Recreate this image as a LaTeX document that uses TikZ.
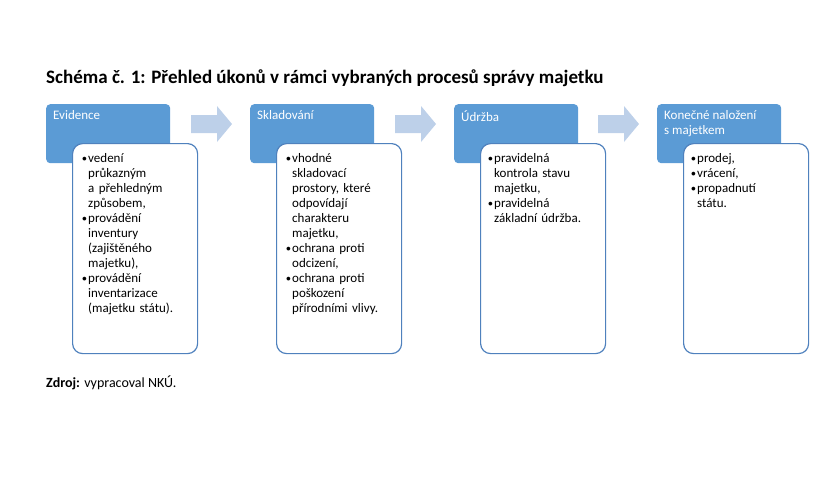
\documentclass[tikz,border=0pt]{standalone}
\usepackage{fontspec}
\setmainfont{Carlito}
\definecolor{hb}{RGB}{91,155,213}
\definecolor{ar}{RGB}{189,208,233}
\definecolor{bd}{RGB}{79,129,189}
\begin{document}
\begin{tikzpicture}[x=1pt,y=-1pt,
 head/.style={fill=hb,rounded corners=4pt,minimum width=124pt,minimum height=59pt,anchor=north west,inner sep=0pt},
 body/.style={draw=bd,line width=1.2pt,fill=white,rounded corners=10pt,minimum width=125pt,minimum height=210pt,anchor=north west,inner sep=0pt},
 htext/.style={anchor=north west,text=white,font=\fontsize{13}{15}\selectfont,align=left,inner sep=0pt},
 btext/.style={anchor=north west,font=\fontsize{13}{15}\selectfont,align=left,inner sep=0pt,text width=97pt},
 arr/.style={fill=ar,draw=none}]
\useasboundingbox (0,0) rectangle (840,480);
\node[anchor=west,font=\fontsize{19}{21}\selectfont\bfseries,inner sep=0pt] (title) at (46,78) {Schéma č. 1: Přehled úkonů v rámci vybraných procesů správy majetku};
\newcommand{\bl}[1]{\raggedright\hyphenpenalty=10000\exhyphenpenalty=10000\hangindent=6pt\hangafter=1 \makebox[6pt][l]{\raisebox{1pt}{\scalebox{0.8}{$\bullet$}}}#1\par}
\foreach \n/\x in {1/46,2/250,3/454,4/657}{
  \node[head] (h\n) at (\x,104) {};
  \node[body] (b\n) at (\x+26,143) {};
}
\node[htext] (t1) at (53,110) {Evidence};
\node[htext] (t2) at (257,110) {Skladování};
\node[htext] (t3) at (461,110) {Údržba};
\node[htext] (t4) at (664,110) {Konečné naložení\\s majetkem};
\node[btext] (c1) at (82,153) {\bl{vedení průkazným a~přehledným způsobem,}\bl{provádění inventury (zajištěného majetku),}\bl{provádění inventarizace (majetku státu).}};
\node[btext] (c2) at (286,153) {\bl{vhodné skladovací prostory, které odpovídají charakteru majetku,}\bl{ochrana proti odcizení,}\bl{ochrana proti poškození přírodními vlivy.}};
\node[btext] (c3) at (488,153) {\bl{pravidelná kontrola stavu majetku,}\bl{pravidelná základní údržba.}};
\node[btext] (c4) at (691,153) {\bl{prodej,}\bl{vrácení,}\bl{propadnutí státu.}};
\foreach \a/\x in {1/191,2/395,3/598}{
  \fill[arr] (\x,115) -- (\x+26,115) -- (\x+26,106) -- (\x+41,124) -- (\x+26,142) -- (\x+26,133) -- (\x,133) -- cycle;
}
\node[anchor=west,font=\fontsize{14}{16}\selectfont,inner sep=0pt] (src) at (46,383) {\textbf{Zdroj:} vypracoval NKÚ.};
\end{tikzpicture}
\end{document}
